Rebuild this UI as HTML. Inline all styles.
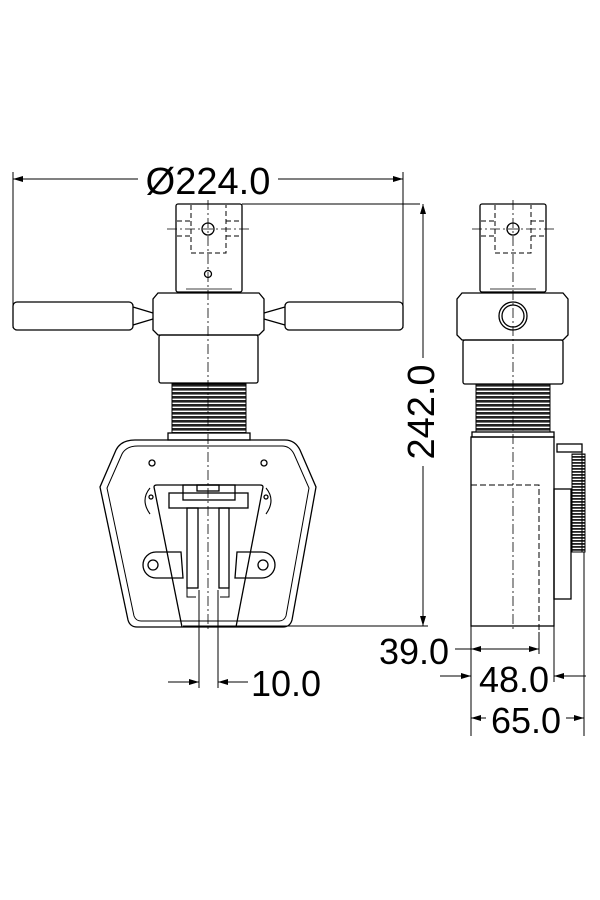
<!DOCTYPE html>
<html><head><meta charset="utf-8"><style>
html,body{margin:0;padding:0;background:#fff;}
svg{display:block}
text{font-family:"Liberation Sans","DejaVu Sans",sans-serif;fill:#000}
</style></head><body>
<svg width="600" height="900" viewBox="0 0 600 900" xmlns="http://www.w3.org/2000/svg">
<defs>
<marker id="a" viewBox="0 0 10 6" refX="10" refY="3" markerWidth="14" markerHeight="6" markerUnits="userSpaceOnUse" orient="auto-start-reverse"><path d="M0,0 L10,3 L0,6 z" fill="#000"/></marker>
<pattern id="th" width="4" height="4" patternUnits="userSpaceOnUse"><rect width="4" height="2.6" fill="#222"/></pattern>
<pattern id="kn" width="3" height="3" patternUnits="userSpaceOnUse"><rect width="3" height="1.8" fill="#222"/></pattern>
</defs>
<g fill="none" stroke="#000" stroke-width="1.3">
<line x1="13" y1="172" x2="13" y2="328" stroke-width="1"/>
<line x1="403" y1="172" x2="403" y2="328" stroke-width="1"/>
<line x1="13" y1="179" x2="138" y2="179" stroke-width="1" marker-start="url(#a)"/>
<line x1="278" y1="179" x2="403" y2="179" stroke-width="1" marker-end="url(#a)"/>
<rect x="176" y="204" width="66" height="88" rx="2"/>
<line x1="186" y1="289" x2="232" y2="289" stroke-width="0.8"/>
<circle cx="208" cy="229" r="6"/>
<circle cx="208" cy="274" r="3.5"/>
<g stroke-dasharray="5,3" stroke-width="1">
<path d="M191,205 V253 H226 V205"/>
<path d="M177,221 H191 M177,236 H191 M226,221 H241 M226,236 H241"/>
</g>
<line x1="167" y1="229" x2="251" y2="229" stroke-width="0.8" stroke-dasharray="10,3,2,3"/>
<line x1="242" y1="204" x2="420" y2="204" stroke-width="1"/>
<path d="M158,293 H259 L264,299 V330 L259,335 H158 L153,330 V299 Z"/>
<path d="M133,307 L153,313 M133,325 L153,319" />
<rect x="13" y="302" width="120" height="28" rx="4"/>
<path d="M285,307 L264,313 M285,325 L264,319"/>
<rect x="285" y="302" width="118" height="28" rx="4"/>
<rect x="159" y="335" width="99" height="48" rx="2"/>
<rect x="172" y="384" width="74" height="49" fill="url(#th)" stroke-width="1"/>
<rect x="168" y="433" width="82" height="7"/>
<path d="M135,440 H285 Q295,440 300,450 L316,487 L292,620 Q290,627 283,627 H137 Q130,627 128,620 L100,487 L116,450 Q121,440 135,440 Z"/>
<path d="M138,446 H282 Q290,446 294,454 L309,488 L286,616 Q284,621 279,621 H141 Q136,621 134,616 L107,488 L122,454 Q126,446 138,446 Z" stroke-width="1"/>
<circle cx="152" cy="463" r="3"/>
<circle cx="264" cy="463" r="3"/>
<path d="M182,627 L154,487 Q154,485 157,485 H260 Q263,485 263,487 L236,627"/>
<path d="M150,488 Q140,500 150,514 M266,488 Q276,500 266,514" stroke-width="1.1"/>
<circle cx="151" cy="497" r="2"/><circle cx="266" cy="497" r="2"/>
<path d="M181,552 H156 A13,13 0 0 0 156,578 H183 Z"/>
<circle cx="153" cy="565" r="5"/>
<path d="M237,552 H262 A13,13 0 0 1 262,578 H235 Z"/>
<circle cx="263" cy="565" r="5"/>
<rect x="169" y="493" width="79" height="15"/>
<rect x="183" y="485" width="52" height="15"/>
<rect x="197" y="485" width="22" height="6"/>
<rect x="187" y="508" width="11" height="80"/>
<rect x="219" y="508" width="10" height="80"/>
<path d="M187,588 V597 H196 M229,588 V597 H220" stroke-width="1"/>
<line x1="208" y1="200" x2="208" y2="632" stroke-width="0.8" stroke-dasharray="10,3,2,3"/>
<line x1="199" y1="590" x2="199" y2="688" stroke-width="1"/>
<line x1="218" y1="590" x2="218" y2="688" stroke-width="1"/>
<line x1="168" y1="682" x2="199" y2="682" stroke-width="1" marker-end="url(#a)"/>
<line x1="248" y1="682" x2="218" y2="682" stroke-width="1" marker-end="url(#a)"/>
<line x1="183" y1="626" x2="428" y2="626" stroke-width="1"/>
<line x1="423" y1="204" x2="423" y2="358" stroke-width="1" marker-start="url(#a)"/>
<line x1="423" y1="466" x2="423" y2="626" stroke-width="1" marker-end="url(#a)"/>

<rect x="480" y="204" width="66" height="88" rx="2"/>
<line x1="490" y1="289" x2="536" y2="289" stroke-width="0.8"/>
<circle cx="513" cy="229" r="6"/>
<g stroke-dasharray="5,3" stroke-width="1">
<path d="M495,205 V253 H531 V205"/>
<path d="M481,221 H495 M481,236 H495 M531,221 H545 M531,236 H545"/>
</g>
<line x1="472" y1="229" x2="554" y2="229" stroke-width="0.8" stroke-dasharray="10,3,2,3"/>
<path d="M462,293 H563 L568,299 V335 L563,340 H462 L457,335 V299 Z"/>
<circle cx="513" cy="316" r="14"/>
<circle cx="513" cy="316" r="11"/>
<rect x="463" y="340" width="100" height="44" rx="2"/>
<rect x="476" y="384" width="74" height="48" fill="url(#th)" stroke-width="1"/>
<rect x="472" y="432" width="82" height="5"/>
<rect x="471" y="437" width="83" height="189"/>
<path d="M471,485 H539 V632" stroke-dasharray="6,3" stroke-width="1"/>
<rect x="554" y="489" width="17" height="110"/>
<rect x="557" y="444" width="25" height="8"/>
<rect x="572" y="454" width="13" height="98" fill="url(#kn)" stroke-width="1"/>
<path d="M575,444 H582 V552 H575" stroke-width="1"/>
<line x1="513" y1="200" x2="513" y2="632" stroke-width="0.8" stroke-dasharray="10,3,2,3"/>
<line x1="471" y1="626" x2="471" y2="736" stroke-width="1"/>
<line x1="539" y1="632" x2="539" y2="654" stroke-width="1"/>
<line x1="554" y1="626" x2="554" y2="682" stroke-width="1"/>
<line x1="584" y1="552" x2="584" y2="736" stroke-width="1"/>
<line x1="455" y1="649" x2="471" y2="649" stroke-width="1"/>
<line x1="471" y1="649" x2="539" y2="649" stroke-width="1" marker-start="url(#a)" marker-end="url(#a)"/>
<line x1="440" y1="676" x2="471" y2="676" stroke-width="1" marker-end="url(#a)"/>
<line x1="586" y1="676" x2="554" y2="676" stroke-width="1" marker-end="url(#a)"/>
<line x1="486" y1="718" x2="471" y2="718" stroke-width="1" marker-end="url(#a)"/>
<line x1="566" y1="718" x2="584" y2="718" stroke-width="1" marker-end="url(#a)"/>
</g>
<text x="208" y="194" font-size="38" text-anchor="middle">Ø224.0</text>
<text x="286" y="696" font-size="36" text-anchor="middle">10.0</text>
<text transform="translate(434,412) rotate(-90)" font-size="38" text-anchor="middle">242.0</text>
<text x="414" y="664" font-size="36" text-anchor="middle">39.0</text>
<text x="514" y="692" font-size="36" text-anchor="middle">48.0</text>
<text x="526" y="733" font-size="36" text-anchor="middle">65.0</text>
</svg>
</body></html>
